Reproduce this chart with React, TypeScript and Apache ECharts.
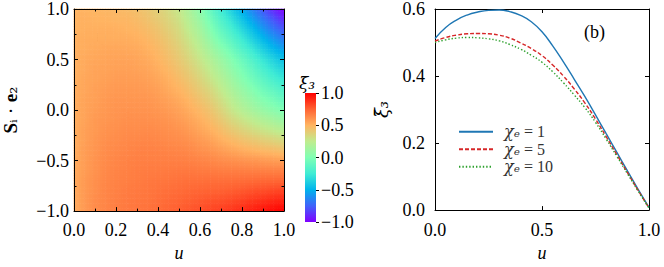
import React, { useEffect, useRef } from 'react';
import * as echarts from 'echarts';

// u grid (columns) and S_i·e_2 grid (rows, top to bottom)
const uGrid = [0, 0.05, 0.1, 0.15, 0.2, 0.25, 0.3, 0.35, 0.4, 0.45, 0.5, 0.55, 0.6, 0.65, 0.7, 0.75, 0.8, 0.85, 0.9, 0.95, 1.0];
const sGrid = [1.0, 0.9, 0.8, 0.7, 0.6, 0.5, 0.4, 0.3, 0.2, 0.1, 0.0, -0.1, -0.2, -0.3, -0.4, -0.5, -0.6, -0.7, -0.8, -0.9, -1.0];

// panel (a): xi_3 values, one array per u column, listed from s = 1 down to s = -1
const xi3Columns = [
  [0.50, 0.50, 0.50, 0.51, 0.51, 0.51, 0.51, 0.51, 0.52, 0.52, 0.52, 0.52, 0.52, 0.52, 0.52, 0.525, 0.53, 0.53, 0.53, 0.53, 0.53],
  [0.50, 0.51, 0.51, 0.52, 0.52, 0.53, 0.53, 0.54, 0.54, 0.55, 0.55, 0.55, 0.56, 0.56, 0.57, 0.57, 0.57, 0.58, 0.58, 0.58, 0.58],
  [0.49, 0.50, 0.51, 0.52, 0.53, 0.54, 0.55, 0.55, 0.56, 0.56, 0.57, 0.58, 0.58, 0.59, 0.59, 0.60, 0.60, 0.61, 0.61, 0.62, 0.62],
  [0.485, 0.50, 0.51, 0.52, 0.535, 0.545, 0.55, 0.56, 0.57, 0.58, 0.585, 0.59, 0.60, 0.61, 0.62, 0.625, 0.63, 0.635, 0.64, 0.64, 0.645],
  [0.48, 0.49, 0.51, 0.52, 0.54, 0.55, 0.56, 0.57, 0.58, 0.59, 0.595, 0.60, 0.61, 0.62, 0.63, 0.64, 0.645, 0.65, 0.655, 0.66, 0.665],
  [0.47, 0.49, 0.50, 0.52, 0.535, 0.55, 0.56, 0.57, 0.58, 0.59, 0.60, 0.61, 0.62, 0.63, 0.64, 0.65, 0.655, 0.66, 0.67, 0.675, 0.68],
  [0.45, 0.47, 0.49, 0.51, 0.53, 0.545, 0.555, 0.57, 0.58, 0.59, 0.60, 0.61, 0.62, 0.635, 0.65, 0.66, 0.665, 0.67, 0.68, 0.685, 0.69],
  [0.42, 0.44, 0.465, 0.49, 0.51, 0.53, 0.545, 0.56, 0.575, 0.59, 0.60, 0.61, 0.625, 0.64, 0.65, 0.66, 0.67, 0.68, 0.685, 0.69, 0.70],
  [0.38, 0.40, 0.43, 0.455, 0.48, 0.50, 0.52, 0.54, 0.56, 0.575, 0.59, 0.605, 0.62, 0.635, 0.65, 0.66, 0.67, 0.685, 0.70, 0.71, 0.72],
  [0.33, 0.355, 0.38, 0.41, 0.435, 0.46, 0.485, 0.51, 0.53, 0.555, 0.575, 0.595, 0.61, 0.625, 0.645, 0.66, 0.675, 0.69, 0.71, 0.725, 0.74],
  [0.27, 0.30, 0.33, 0.355, 0.385, 0.41, 0.44, 0.47, 0.50, 0.53, 0.555, 0.575, 0.60, 0.62, 0.64, 0.66, 0.68, 0.70, 0.72, 0.74, 0.76],
  [0.17, 0.205, 0.24, 0.28, 0.315, 0.35, 0.385, 0.42, 0.455, 0.49, 0.52, 0.55, 0.575, 0.605, 0.63, 0.655, 0.68, 0.705, 0.73, 0.755, 0.78],
  [0.05, 0.10, 0.145, 0.19, 0.235, 0.28, 0.32, 0.36, 0.40, 0.44, 0.48, 0.515, 0.545, 0.58, 0.61, 0.645, 0.675, 0.705, 0.74, 0.77, 0.80],
  [-0.10, -0.04, 0.02, 0.08, 0.14, 0.20, 0.245, 0.29, 0.34, 0.385, 0.43, 0.47, 0.51, 0.555, 0.595, 0.635, 0.67, 0.71, 0.745, 0.785, 0.82],
  [-0.25, -0.18, -0.11, -0.04, 0.04, 0.11, 0.16, 0.21, 0.26, 0.31, 0.36, 0.41, 0.465, 0.515, 0.57, 0.62, 0.665, 0.71, 0.75, 0.795, 0.84],
  [-0.38, -0.30, -0.22, -0.14, -0.06, 0.02, 0.07, 0.125, 0.175, 0.23, 0.28, 0.345, 0.41, 0.48, 0.545, 0.61, 0.66, 0.71, 0.76, 0.81, 0.86],
  [-0.52, -0.43, -0.34, -0.25, -0.17, -0.08, -0.02, 0.035, 0.095, 0.15, 0.21, 0.29, 0.365, 0.445, 0.52, 0.60, 0.66, 0.715, 0.775, 0.83, 0.89],
  [-0.65, -0.56, -0.46, -0.37, -0.27, -0.18, -0.11, -0.05, 0.02, 0.085, 0.15, 0.24, 0.325, 0.415, 0.50, 0.59, 0.655, 0.72, 0.79, 0.855, 0.92],
  [-0.78, -0.68, -0.58, -0.48, -0.38, -0.28, -0.205, -0.13, -0.06, 0.015, 0.09, 0.19, 0.285, 0.385, 0.48, 0.58, 0.655, 0.73, 0.80, 0.875, 0.95],
  [-0.90, -0.79, -0.69, -0.58, -0.48, -0.37, -0.29, -0.21, -0.12, -0.04, 0.04, 0.145, 0.25, 0.36, 0.465, 0.57, 0.65, 0.73, 0.815, 0.895, 0.975],
  [-1.0, -0.89, -0.78, -0.67, -0.56, -0.45, -0.36, -0.27, -0.18, -0.10, -0.01, 0.10, 0.215, 0.33, 0.445, 0.56, 0.65, 0.735, 0.825, 0.91, 1.0],
];

// panel (b): averaged xi_3 vs u for three chi_e values
const uLine = [0, 0.05, 0.1, 0.15, 0.2, 0.25, 0.3, 0.35, 0.4, 0.45, 0.5, 0.55, 0.6, 0.65, 0.7, 0.75, 0.8, 0.85, 0.9, 0.95, 1.0];
const xiChi1 = [0.512, 0.545, 0.567, 0.582, 0.591, 0.596, 0.597, 0.592, 0.581, 0.562, 0.532, 0.490, 0.442, 0.391, 0.339, 0.284, 0.228, 0.172, 0.116, 0.061, 0.008];
const xiChi5 = [0.504, 0.515, 0.522, 0.526, 0.527, 0.526, 0.522, 0.513, 0.499, 0.482, 0.461, 0.433, 0.400, 0.362, 0.320, 0.272, 0.219, 0.165, 0.111, 0.058, 0.006];
const xiChi10 = [0.500, 0.508, 0.513, 0.515, 0.514, 0.511, 0.505, 0.494, 0.480, 0.462, 0.441, 0.413, 0.380, 0.344, 0.306, 0.262, 0.212, 0.160, 0.108, 0.056, 0.006];
const seriesKeys = ['chi1', 'chi5', 'chi10'];
const legendLabels = ['1', '5', '10'];

const rainbow = ['#8000ff', '#4062fa', '#00b4ec', '#40ecd4', '#80ffb4', '#c0ec8e', '#ffb462', '#ff6232', '#ff0000'];

const FONT = '"Liberation Serif", "Times New Roman", serif';
const GREEK = '"DejaVu Serif", serif';
const fmt = (v: number) => (Math.abs(v) < 1e-9 ? 0 : v).toFixed(1).replace('-', '\u2212');
const NSUB = 4;

export default function App() {
  const ref = useRef<HTMLDivElement>(null);
  useEffect(() => {
    const chart = echarts.init(ref.current!, null, { renderer: 'svg' });
    const heatData: number[][] = [];
    uGrid.forEach((u, i) => {
      sGrid.forEach((s, j) => {
        heatData.push([u, s, xi3Columns[i][j]]);
      });
    });
    const toColor = (v: number) => echarts.color.lerp(Math.max(0, Math.min(1, (v + 1) / 2)), rainbow) as string;

    const line = { show: true, onZero: false, lineStyle: { color: '#000', width: 1 } };
    const tick = (len: number) => ({ show: true, inside: true, length: len, lineStyle: { color: '#000', width: 1 } });
    const minor = { show: true, splitNumber: 2, length: 2.5, lineStyle: { color: '#000', width: 1 } };
    const label = (margin: number) => ({ show: true, color: '#000', fontSize: 18, fontFamily: FONT, margin, formatter: fmt });
    const noLabel = { show: false };
    const noSplit = { show: false };

    const option: any = {
      animation: false,
      backgroundColor: '#fff',
      textStyle: { fontFamily: FONT },
      grid: [
        { left: 68, top: 7, width: 216, height: 215 },
        { left: 305, top: 93, width: 11, height: 129 },
        { left: 435, top: 7, width: 214, height: 215 },
      ],
      xAxis: [
        {
          gridIndex: 0, type: 'value', min: 0, max: 1, interval: 0.2, position: 'bottom', z: 5,
          axisLine: line, axisTick: tick(4), minorTick: minor, axisLabel: label(10), splitLine: noSplit,
          name: 'u', nameLocation: 'middle', nameGap: 28,
          nameTextStyle: { fontSize: 18, fontStyle: 'italic', fontFamily: FONT, color: '#000' },
        },
        {
          gridIndex: 0, type: 'value', min: 0, max: 1, interval: 0.2, position: 'top', z: 5,
          axisLine: line, axisTick: tick(4), minorTick: minor, axisLabel: noLabel, splitLine: noSplit,
        },
        { gridIndex: 1, type: 'value', min: 0, max: 1, show: false },
        {
          gridIndex: 2, type: 'value', min: 0, max: 1, interval: 0.5, position: 'bottom',
          axisLine: line, axisTick: tick(4), axisLabel: label(11), splitLine: noSplit,
          name: 'u', nameLocation: 'middle', nameGap: 28,
          nameTextStyle: { fontSize: 18, fontStyle: 'italic', fontFamily: FONT, color: '#000' },
        },
        {
          gridIndex: 2, type: 'value', min: 0, max: 1, interval: 0.5, position: 'top',
          axisLine: line, axisTick: tick(4), axisLabel: noLabel, splitLine: noSplit,
        },
      ],
      yAxis: [
        {
          gridIndex: 0, type: 'value', min: -1, max: 1, interval: 0.5, position: 'left', z: 5,
          axisLine: line, axisTick: tick(4), minorTick: minor, axisLabel: label(5), splitLine: noSplit,
          name: '{b|S}{n|\u1D62 \u00B7 }{b|e}{n|\u2082}', nameLocation: 'middle', nameGap: 54,
          nameTextStyle: {
            color: '#000',
            rich: {
              b: { fontSize: 19, fontWeight: 'bold', fontFamily: FONT, color: '#000' },
              n: { fontSize: 18, fontFamily: GREEK, color: '#000' },
            },
          },
        },
        {
          gridIndex: 0, type: 'value', min: -1, max: 1, interval: 0.5, position: 'right', z: 5,
          axisLine: line, axisTick: tick(4), minorTick: minor, axisLabel: noLabel, splitLine: noSplit,
        },
        {
          gridIndex: 1, type: 'value', min: -1, max: 1, interval: 0.5, position: 'right',
          axisLine: { show: false, onZero: false },
          axisTick: { show: true, inside: false, length: 3, lineStyle: { color: '#000', width: 1 } },
          axisLabel: label(5), splitLine: noSplit,
        },
        {
          gridIndex: 2, type: 'value', min: 0, max: 0.6, interval: 0.2, position: 'left',
          axisLine: line, axisTick: tick(4), axisLabel: label(10), splitLine: noSplit,
          name: '\u03BE\u0304\u2083', nameLocation: 'middle', nameGap: 45,
          nameTextStyle: { fontSize: 18, fontStyle: 'italic', fontFamily: GREEK, color: '#000' },
        },
        {
          gridIndex: 2, type: 'value', min: 0, max: 0.6, interval: 0.2, position: 'right',
          axisLine: line, axisTick: tick(4), axisLabel: noLabel, splitLine: noSplit,
        },
      ],
      legend: {
        orient: 'vertical', left: 458, top: 123, padding: 0, itemWidth: 34, itemHeight: 10, itemGap: 0,
        data: seriesKeys,
        itemStyle: { opacity: 0 },
        formatter: (name: string) => {
          const idx = seriesKeys.indexOf(name);
          return '{g|\u03C7\u2091}{n| = ' + legendLabels[idx] + '}';
        },
        textStyle: {
          color: '#333',
          lineHeight: 17.5,
          rich: {
            g: { fontSize: 16, lineHeight: 17.5, fontStyle: 'italic', fontFamily: GREEK, color: '#333', padding: [0, 0, 0, 6] },
            n: { fontSize: 16, lineHeight: 17.5, fontFamily: FONT, color: '#333' },
          },
        },
      },
      graphic: [
        { type: 'text', left: 86, top: 27, style: { text: '(a)', fontSize: 18, fontFamily: FONT, fill: '#000' } },
        { type: 'text', left: 584, top: 23, style: { text: '(b)', fontSize: 18, fontFamily: FONT, fill: '#000' } },
        { type: 'text', left: 299, top: 74, style: { text: '\u03BE\u0304\u2083', fontSize: 17, fontStyle: 'italic', fontFamily: GREEK, fill: '#000' } },
      ],
      series: [
        {
          type: 'custom', xAxisIndex: 0, yAxisIndex: 0, data: heatData, z: 1,
          encode: { x: 0, y: 1 },
          renderItem: (params: any, api: any) => {
            const idx = params.dataIndex;
            const i = Math.floor(idx / sGrid.length);
            const j = idx % sGrid.length;
            if (i >= uGrid.length - 1 || j >= sGrid.length - 1) return null;
            const v00 = xi3Columns[i][j];
            const v10 = xi3Columns[i + 1][j];
            const v01 = xi3Columns[i][j + 1];
            const v11 = xi3Columns[i + 1][j + 1];
            const pA = api.coord([uGrid[i], sGrid[j]]);
            const pB = api.coord([uGrid[i + 1], sGrid[j + 1]]);
            const w = (pB[0] - pA[0]) / NSUB;
            const h = (pB[1] - pA[1]) / NSUB;
            const children: any[] = [];
            for (let a = 0; a < NSUB; a++) {
              for (let b = 0; b < NSUB; b++) {
                const fx = (a + 0.5) / NSUB;
                const fy = (b + 0.5) / NSUB;
                const v = v00 * (1 - fx) * (1 - fy) + v10 * fx * (1 - fy) + v01 * (1 - fx) * fy + v11 * fx * fy;
                children.push({
                  type: 'rect',
                  shape: { x: pA[0] + a * w - 0.3, y: pA[1] + b * h - 0.3, width: w + 0.6, height: h + 0.6 },
                  style: { fill: toColor(v) },
                });
              }
            }
            return { type: 'group', children };
          },
        },
        {
          type: 'custom', xAxisIndex: 2, yAxisIndex: 2, data: [[0, -1, 1]],
          encode: { x: 0, y: 1 },
          renderItem: (params: any, api: any) => {
            const p0 = api.coord([0, 1]);
            const p1 = api.coord([1, -1]);
            const stops = rainbow.map((c, k) => ({ offset: 1 - k / (rainbow.length - 1), color: c })).reverse();
            return {
              type: 'rect',
              shape: { x: p0[0], y: p0[1], width: p1[0] - p0[0], height: p1[1] - p0[1] },
              style: { fill: new echarts.graphic.LinearGradient(0, 0, 0, 1, stops) },
            };
          },
        },
        {
          name: 'chi1', type: 'line', xAxisIndex: 3, yAxisIndex: 3, symbol: 'none', smooth: true,
          data: uLine.map((u, k) => [u, xiChi1[k]]),
          lineStyle: { color: '#1f77b4', width: 1.4, type: 'solid' }, itemStyle: { color: '#1f77b4' },
        },
        {
          name: 'chi5', type: 'line', xAxisIndex: 3, yAxisIndex: 3, symbol: 'none', smooth: true,
          data: uLine.map((u, k) => [u, xiChi5[k]]),
          lineStyle: { color: '#d62728', width: 1.4, type: [4, 2] }, itemStyle: { color: '#d62728' },
        },
        {
          name: 'chi10', type: 'line', xAxisIndex: 3, yAxisIndex: 3, symbol: 'none', smooth: true,
          data: uLine.map((u, k) => [u, xiChi10[k]]),
          lineStyle: { color: '#2ca02c', width: 1.4, type: [1.4, 2] }, itemStyle: { color: '#2ca02c' },
        },
      ],
    };
    chart.setOption(option);
    return () => chart.dispose();
  }, []);
  return (
    <div
      ref={ref}
      style={{ position: 'fixed', left: 0, top: 0, width: 664, height: 267, background: '#fff' }}
    />
  );
}
